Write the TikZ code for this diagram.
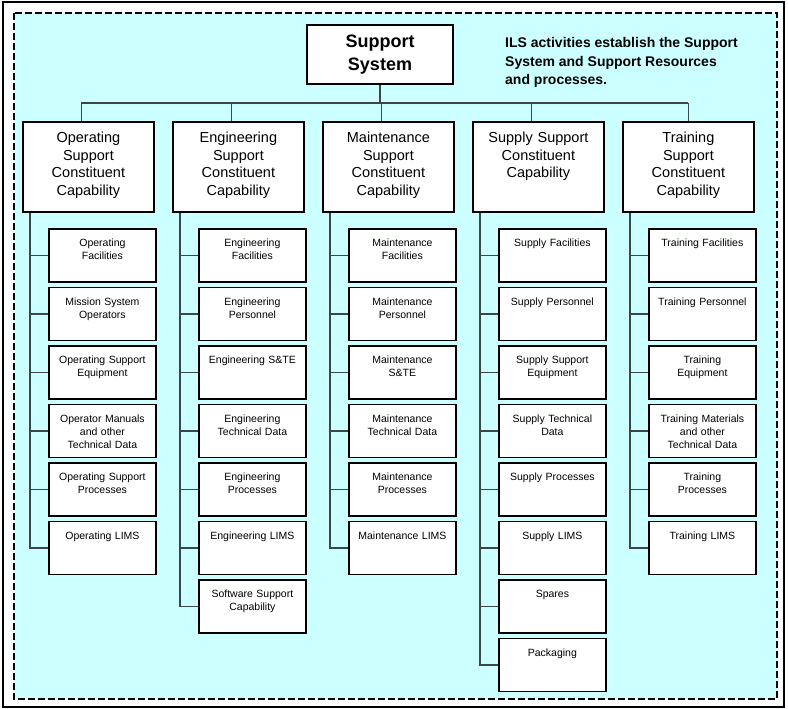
\documentclass[tikz,border=0pt]{standalone}
\usepackage{fontspec}
\setmainfont{Liberation Sans}
\usetikzlibrary{positioning}
\definecolor{panel}{HTML}{CCFFFF}
\definecolor{wire}{HTML}{3C4646}

\tikzset{
  box/.style={draw, line width=1.8pt, fill=white, align=center, inner sep=4pt},
  capbox/.style={box, anchor=north west, text width=123pt, text height=17pt,
    text depth=65pt, font=\fontsize{14.5}{17.5}\selectfont},
  itembox/.style={box, anchor=north west, text width=99pt, text height=14pt,
    text depth=31pt, font=\fontsize{10.5}{13}\selectfont},
  link/.style={draw=wire, line width=1.3pt},
}

\begin{document}
\begin{tikzpicture}[x=1pt, y=-1pt]
        \useasboundingbox (0,0) rectangle (788,709);
        % frame and shaded panel
        \draw[line width=2pt] (3,2) rectangle (784,707);
        \draw[dashed, dash pattern=on 7pt off 3pt, line width=2pt, fill=panel]
          (14,13) rectangle (777,699);

        % top of the tree
        \node[box, minimum width=146pt, minimum height=59pt,
          font=\bfseries\fontsize{18}{23}\selectfont] (sys) at (380,54.5) {Support\\System};
        \node[anchor=north west, align=left, inner sep=0pt,
          font=\bfseries\fontsize{14}{18.5}\selectfont] (note) at (505,37.3)
          {ILS activities establish the Support\\System and Support Resources\\and processes.};
        \coordinate (bus) at (380,103);

        % operating support
        \node[capbox] (ops) at (22,121) {Operating\\Support\\Constituent\\Capability};
        \coordinate (opst) at ([xshift=8pt]ops.south west);
        \foreach \txt [count=\k] in {{Operating\\Facilities}, {Mission System\\Operators},
            {Operating Support\\Equipment}, {Operator Manuals\\and other\\Technical Data},
            {Operating Support\\Processes}, {Operating LIMS}} {
          \node[itembox] (ops\k) at (48,{228+58.5*(\k-1)}) {\txt};
          \draw[link] (opst |- ops\k.west) -- (ops\k.west);
        }
        \draw[link] (opst) |- (ops6.west);

        % engineering support
        \node[capbox] (eng) at (172,121) {Engineering\\Support\\Constituent\\Capability};
        \coordinate (engt) at ([xshift=8pt]eng.south west);
        \foreach \txt [count=\k] in {{Engineering\\Facilities}, {Engineering\\Personnel},
            {Engineering S\&TE}, {Engineering\\Technical Data}, {Engineering\\Processes},
            {Engineering LIMS}, {Software Support\\Capability}} {
          \node[itembox] (eng\k) at (198,{228+58.5*(\k-1)}) {\txt};
          \draw[link] (engt |- eng\k.west) -- (eng\k.west);
        }
        \draw[link] (engt) |- (eng7.west);

        % maintenance support
        \node[capbox] (mnt) at (322,121) {Maintenance\\Support\\Constituent\\Capability};
        \coordinate (mntt) at ([xshift=8pt]mnt.south west);
        \foreach \txt [count=\k] in {{Maintenance\\Facilities}, {Maintenance\\Personnel},
            {Maintenance\\S\&TE}, {Maintenance\\Technical Data}, {Maintenance\\Processes},
            {Maintenance LIMS}} {
          \node[itembox] (mnt\k) at (348,{228+58.5*(\k-1)}) {\txt};
          \draw[link] (mntt |- mnt\k.west) -- (mnt\k.west);
        }
        \draw[link] (mntt) |- (mnt6.west);

        % supply support
        \node[capbox] (sup) at (472,121) {Supply Support\\Constituent\\Capability};
        \coordinate (supt) at ([xshift=8pt]sup.south west);
        \foreach \txt [count=\k] in {{Supply Facilities}, {Supply Personnel},
            {Supply Support\\Equipment}, {Supply Technical\\Data}, {Supply Processes},
            {Supply LIMS}, {Spares}, {Packaging}} {
          \node[itembox] (sup\k) at (498,{228+58.5*(\k-1)}) {\txt};
          \draw[link] (supt |- sup\k.west) -- (sup\k.west);
        }
        \draw[link] (supt) |- (sup8.west);

        % training support
        \node[capbox] (trn) at (622,121) {Training\\Support\\Constituent\\Capability};
        \coordinate (trnt) at ([xshift=8pt]trn.south west);
        \foreach \txt [count=\k] in {{Training Facilities}, {Training Personnel},
            {Training\\Equipment}, {Training Materials\\and other\\Technical Data},
            {Training\\Processes}, {Training LIMS}} {
          \node[itembox] (trn\k) at (648,{228+58.5*(\k-1)}) {\txt};
          \draw[link] (trnt |- trn\k.west) -- (trn\k.west);
        }
        \draw[link] (trnt) |- (trn6.west);

        % bus from the top box
        \draw[link] (sys.south) -- (bus);
        \draw[link] ([xshift=-7pt]ops.north |- bus) -- (trn.north |- bus);
        \foreach \c in {ops, eng, mnt, sup}
          \draw[link] ([xshift=-7pt]\c.north |- bus) -- ([xshift=-7pt]\c.north);
        \draw[link] (trn.north |- bus) -- (trn.north);
\end{tikzpicture}
\end{document}
